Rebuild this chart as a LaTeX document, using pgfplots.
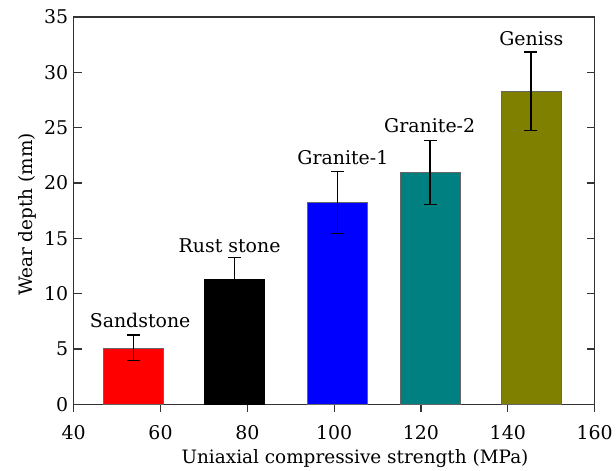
\documentclass[border=0pt]{standalone}
\usepackage{fontspec}
\setmainfont{DejaVu Serif}
\usepackage{pgfplots}
\pgfplotsset{compat=1.18}
\definecolor{teal2}{RGB}{0,128,128}
\definecolor{olive2}{RGB}{128,128,0}
\begin{document}
\begin{tikzpicture}
\begin{axis}[
  scale only axis,
  width=523pt, height=389pt,
  xmin=40, xmax=160, ymin=0, ymax=35,
  xtick={40,60,80,100,120,140,160},
  ytick={0,5,...,35},
  tick align=inside,
  xtick pos=bottom,
  ytick pos=both,
  major tick length=8pt,
  /pgf/number format/assume math mode=true,
  tick label style={font=\rmfamily\fontsize{19}{23}\selectfont},
  xticklabel style={anchor=base, yshift=-27pt},
  yticklabel style={xshift=-2pt},
  label style={font=\rmfamily\fontsize{18.5}{23}\selectfont},
  xlabel={Uniaxial compressive strength (MPa)},
  ylabel={Wear depth (mm)},
  xlabel style={at={([yshift=-59pt]axis description cs:0.54,0)}, anchor=base},
  ylabel style={at={([xshift=-41pt]axis description cs:0,0.49)}, anchor=base},
  axis line style={line width=1.2pt, color=black!80},
  tick style={line width=1.2pt, color=black!80},
  ybar, bar shift=0pt, bar width=13.8,
  error bars/y dir=both, error bars/y explicit,
  error bars/error bar style={line width=1.4pt, black},
  error bars/error mark options={rotate=90, mark size=6.5pt, line width=1.4pt, black},
]
\addplot[fill=red, draw=black!60] coordinates {(53.8,5.1) +- (0,1.15)};
\addplot[fill=black, draw=black] coordinates {(77,11.35) +- (0,1.9)};
\addplot[fill=blue, draw=black!60] coordinates {(100.7,18.25) +- (0,2.8)};
\addplot[fill=teal2, draw=black!60] coordinates {(122.1,20.95) +- (0,2.9)};
\addplot[fill=olive2, draw=black!60] coordinates {(145.3,28.27) +- (0,3.55)};
\node[font=\rmfamily\fontsize{19}{23}\selectfont, anchor=base] at (axis cs:55.3,6.93) {Sandstone};
\node[font=\rmfamily\fontsize{19}{23}\selectfont, anchor=base] at (axis cs:75.9,13.75) {Rust stone};
\node[font=\rmfamily\fontsize{19}{23}\selectfont, anchor=base] at (axis cs:102,21.7) {Granite-1};
\node[font=\rmfamily\fontsize{19}{23}\selectfont, anchor=base] at (axis cs:122,24.6) {Granite-2};
\node[font=\rmfamily\fontsize{19}{23}\selectfont, anchor=base] at (axis cs:145.4,32.4) {Geniss};
\end{axis}
\path (current axis.south west) ++(-74pt,-64pt) coordinate (bbA);
\path (current axis.north east) ++(19pt,17pt) coordinate (bbB);
\path[use as bounding box] (bbA) rectangle (bbB);
\end{tikzpicture}
\end{document}
